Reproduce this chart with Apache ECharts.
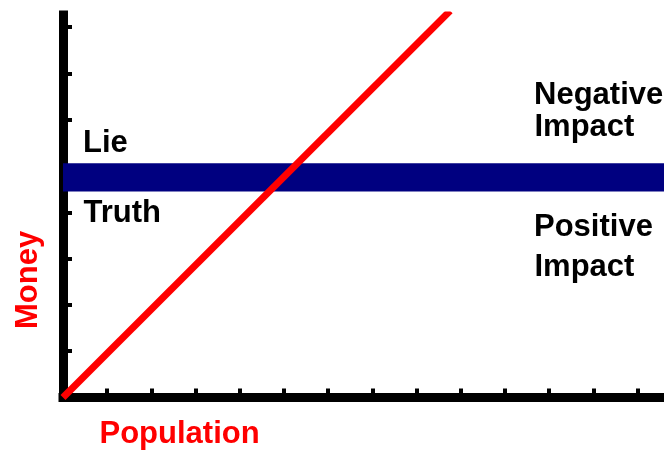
<!DOCTYPE html>
<html>
<head>
<meta charset="utf-8">
<script src="https://cdn.jsdelivr.net/npm/echarts@6/dist/echarts.min.js"></script>
<style>
html,body{margin:0;padding:0;background:#fff;}
#chart{width:664px;height:452px;}
</style>
</head>
<body>
<div id="chart"></div>
<script>
// ---- data ----
const xTicks = [1,2,3,4,5,6,7,8,9,10,11,12,13];
const yTicks = [1,2,3,4,5,6,7,8];
const moneyLine = [[0, 0], [8.76, 8.35]];      // red line (Population -> Money)
const bandRange = [4.45, 5.06];                 // navy Lie/Truth band (Money)
const xAxisName = 'Population';
const yAxisName = 'Money';
const bandLabels = ['Lie', 'Truth'];
const impactLabels = ['Negative', 'Impact', 'Positive', 'Impact'];

const FONT = 'bold 31px "Liberation Sans", Arial, sans-serif';
const chart = echarts.init(document.getElementById('chart'), null, {renderer: 'canvas'});

chart.setOption({
  animation: false,
  backgroundColor: '#ffffff',
  grid: {left: 63, right: 0, top: 15, bottom: 54.5, containLabel: false},
  xAxis: {
    type: 'value', min: 0, max: 13.6, interval: 1,
    axisLine: {show: true, onZero: false, lineStyle: {color: '#000', width: 9, cap: 'square'}},
    axisTick: {show: true, inside: true, length: 9, customValues: xTicks, lineStyle: {color: '#000', width: 4}},
    axisLabel: {show: false},
    splitLine: {show: false}
  },
  yAxis: {
    type: 'value', min: 0, max: 8.26, interval: 1,
    axisLine: {show: true, onZero: false, lineStyle: {color: '#000', width: 9, cap: 'square'}},
    axisTick: {show: true, inside: true, length: 9, customValues: yTicks, lineStyle: {color: '#000', width: 4}},
    axisLabel: {show: false},
    splitLine: {show: false}
  },
  series: [
    {
      type: 'line', z: 1, data: [], silent: true,
      markArea: {
        silent: true,
        itemStyle: {color: '#000080', borderWidth: 0},
        data: [[{yAxis: bandRange[0]}, {yAxis: bandRange[1]}]]
      }
    },
    {
      type: 'line', z: 5, data: moneyLine, clip: true,
      symbol: 'none', showSymbol: false,
      lineStyle: {color: '#ff0000', width: 7, cap: 'butt'}
    }
  ],
  graphic: [
    {type: 'text', x: 83, y: 143.5, style: {text: bandLabels[0], font: FONT, fill: '#000', textAlign: 'left', textVerticalAlign: 'middle'}},
    {type: 'text', x: 83.5, y: 213, style: {text: bandLabels[1], font: FONT, fill: '#000', textAlign: 'left', textVerticalAlign: 'middle'}},
    {type: 'text', x: 534, y: 95.5, style: {text: impactLabels[0], font: FONT, fill: '#000', textAlign: 'left', textVerticalAlign: 'middle'}},
    {type: 'text', x: 534.5, y: 127.5, style: {text: impactLabels[1], font: FONT, fill: '#000', textAlign: 'left', textVerticalAlign: 'middle'}},
    {type: 'text', x: 534, y: 227.5, style: {text: impactLabels[2], font: FONT, fill: '#000', textAlign: 'left', textVerticalAlign: 'middle'}},
    {type: 'text', x: 534.5, y: 267.5, style: {text: impactLabels[3], font: FONT, fill: '#000', textAlign: 'left', textVerticalAlign: 'middle'}},
    {type: 'text', x: 99.5, y: 434, style: {text: xAxisName, font: FONT, fill: '#ff0000', textAlign: 'left', textVerticalAlign: 'middle'}},
    {type: 'text', x: 28, y: 329, rotation: Math.PI / 2, style: {text: yAxisName, font: FONT, fill: '#ff0000', textAlign: 'left', textVerticalAlign: 'middle'}}
  ]
});
</script>
</body>
</html>
